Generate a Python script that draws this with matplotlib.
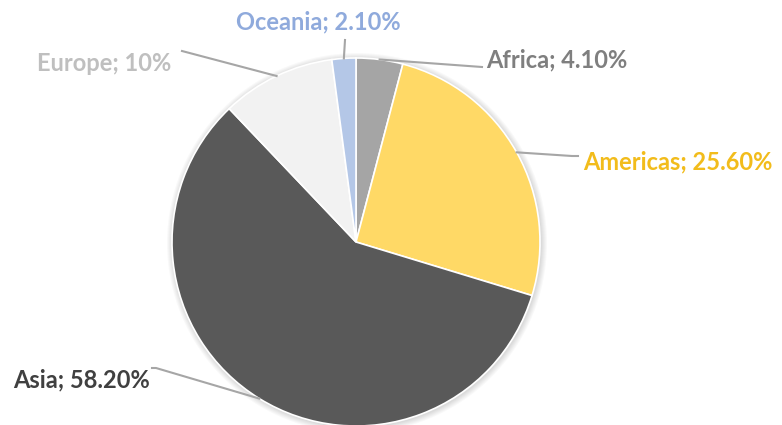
import numpy as np
import matplotlib.pyplot as plt
from matplotlib.patches import Circle

# Share of world population by region
regions = ['Africa', 'Americas', 'Asia', 'Europe', 'Oceania']
shares = [4.1, 25.6, 58.2, 10.0, 2.1]
pct_labels = ['4.10%', '25.60%', '58.20%', '10%', '2.10%']

slice_colors = ['#A5A5A5', '#FFD966', '#595959', '#F2F2F2', '#B4C7E7']
text_colors = ['#7F7F7F', '#F2BC1B', '#404040', '#BFBFBF', '#8FAADC']

W, H = 782, 425
cx, cy, r = 356, H - 242, 184

fig = plt.figure(figsize=(W / 100, H / 100), dpi=100)
ax = fig.add_axes([0, 0, 1, 1])

# soft shadow around the pie
for k in range(6):
    ax.add_patch(Circle((cx + 1, cy - 1), r + 1 + k, color='black', alpha=0.025, lw=0))

wedges, _ = ax.pie(shares, colors=slice_colors, startangle=90, counterclock=False,
                   center=(cx, cy), radius=r, frame=True,
                   wedgeprops=dict(edgecolor='white', linewidth=1.2))
ax.set_xlim(0, W)
ax.set_ylim(0, H)
ax.set_aspect('equal')
ax.axis('off')

# label layout: elbow point of leader line, text anchor, alignment
layout = {
    'Africa':   dict(elbow=(482, H - 67), text=(486, H - 60), ha='left'),
    'Americas': dict(elbow=(578, H - 156), text=(583, H - 162), ha='left'),
    'Asia':     dict(elbow=(156, H - 368), text=(150, H - 380), ha='right'),
    'Europe':   dict(elbow=(182, H - 51), text=(171, H - 63), ha='right'),
    'Oceania':  dict(elbow=(345, H - 40), text=(318, H - 22), ha='center'),
}

for w, name, pl, tc in zip(wedges, regions, pct_labels, text_colors):
    mid = np.deg2rad((w.theta1 + w.theta2) / 2)
    ex, ey = cx + r * np.cos(mid), cy + r * np.sin(mid)
    lay = layout[name]
    bx, by = lay['elbow']
    tx, ty = lay['text']
    if name == 'Americas':
        ax.plot([ex, bx - 6, bx], [ey, by, by], color='#A6A6A6', lw=1.5)
    elif name == 'Asia':
        ax.plot([ex, bx, bx - 4], [ey, by, by], color='#A6A6A6', lw=1.5)
    else:
        ax.plot([ex, bx], [ey, by], color='#A6A6A6', lw=1.5)
    ax.text(tx, ty, f'{name}; {pl}', color=tc, ha=lay['ha'], va='center',
            fontsize=17, fontweight='bold', family='Lato')

fig.savefig('out.png', dpi=100)
